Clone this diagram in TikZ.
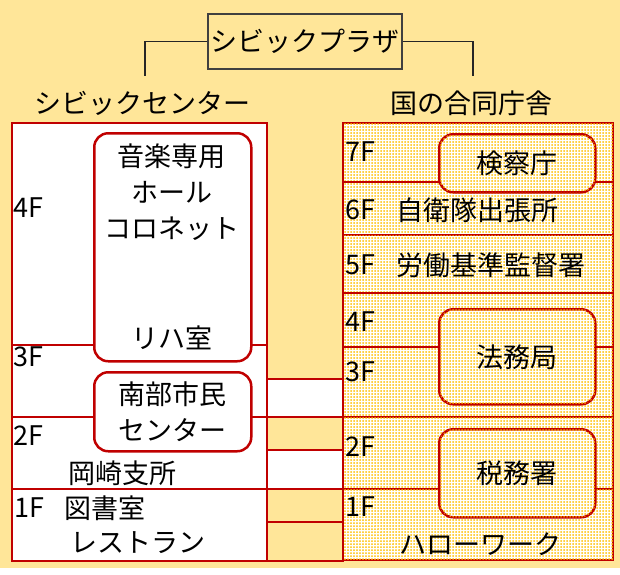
\documentclass[tikz,border=0pt]{standalone}
\usepackage{fontspec}
\setmainfont{Noto Sans CJK JP}
\usepackage{xcolor}
\usetikzlibrary{positioning, patterns.meta}

\definecolor{bgyellow}{HTML}{FFE699}
\definecolor{wallred}{HTML}{C00000}
\definecolor{dotgold}{HTML}{FFC000}

\begin{document}
\begin{tikzpicture}[
    x=1pt, y=-1pt,
    txt/.style={inner sep=0pt, font=\fontsize{27}{36}\selectfont, align=center},
    dotted fill/.style={fill=white, postaction={pattern={Dots[radius=1pt, distance=3pt]}, pattern color=dotgold}},
    civicfloor/.style={rectangle, draw=wallred, line width=2pt, fill=white, outer sep=0pt, inner sep=0pt, minimum width=255pt},
    govfloor/.style={rectangle, draw=wallred, line width=2pt, dotted fill, outer sep=0pt, inner sep=0pt, minimum width=270pt},
    bridge/.style={rectangle, draw=wallred, line width=2pt, outer sep=0pt, minimum width=76pt, anchor=south west},
    room/.style={rectangle, rounded corners=14pt, draw=wallred, line width=2.5pt, fill=white, inner sep=0pt, anchor=north west, txt},
    govroom/.style={room, dotted fill},
    titlebox/.style={rectangle, draw=black!75, line width=1.5pt, fill=bgyellow, minimum width=194pt, minimum height=55pt, txt},
    link/.style={draw=black!85, line width=1.5pt}
]

% Background
\useasboundingbox (0,0) rectangle (620,574);
\fill[bgyellow] (0,0) rectangle (620,568);

% Plaza title and headers
\node[titlebox] (plaza) at (305,41.5) {シビックプラザ};
\coordinate (civictop) at (145,76);
\coordinate (govtop) at (473,76);
\draw[link] (plaza.west) -| (civictop);
\draw[link] (plaza.east) -| (govtop);
\node[txt] (civichead) at (142,103) {シビックセンター};
\node[txt] (govhead) at (471,103) {国の合同庁舎};

% Civic center floors
\node[civicfloor, minimum height=222pt, anchor=north west] (c4) at (12,123) {};
\node[civicfloor, minimum height=72pt, below=0pt of c4] (c3) {};
\node[civicfloor, minimum height=72pt, below=0pt of c3] (c2) {};
\node[civicfloor, minimum height=72pt, below=0pt of c2] (c1) {};

% Government building floors
\node[govfloor, minimum height=59pt, anchor=north west] (g7) at (343,123) {};
\node[govfloor, minimum height=53pt, below=0pt of g7] (g6) {};
\node[govfloor, minimum height=58pt, below=0pt of g6] (g5) {};
\node[govfloor, minimum height=54pt, below=0pt of g5] (g4) {};
\node[govfloor, minimum height=70pt, below=0pt of g4] (g3) {};
\node[govfloor, minimum height=72pt, below=0pt of g3] (g2) {};
\node[govfloor, minimum height=71pt, below=0pt of g2] (g1) {};

% Bridges between buildings
\node[bridge, fill=white, minimum height=38pt] (br3) at (c3.south east) {};
\node[bridge, fill=white, minimum height=39pt] (br2) at (c2.south east) {};
\node[bridge, minimum height=39pt] (br1) at (c1.south east) {};

% Rooms
\node[room, minimum width=157pt, minimum height=228pt] (hall) at (93,132) {};
\node[room, minimum width=157pt, minimum height=79pt] (minami) at (93,371) {南部市民\\センター};
\node[govroom, minimum width=156pt, minimum height=58pt] (kensatsu) at (438,133) {検察庁};
\node[govroom, minimum width=156pt, minimum height=95pt] (houmu) at (438,308) {法務局};
\node[govroom, minimum width=156pt, minimum height=88pt] (zeimu) at (438,428) {税務署};

% Civic center labels
\node[txt] (hallname) at (171.5,192) {音楽専用\\ホール\\コロネット};
\node[txt] (rehearsal) at (171.5,338) {リハ室};
\node[txt, anchor=west] (cf4) at (13,208) {4F};
\node[txt, anchor=west] (cf3) at (13,357) {3F};
\node[txt, anchor=west] (cf2) at (13,436) {2F};
\node[txt, anchor=west] (okazaki) at (68,473) {岡崎支所};
\node[txt, anchor=west] (cf1) at (14,508) {1F};
\node[txt, right=20pt of cf1] (library) {図書室};
\node[txt, anchor=west] (restaurant) at (70,543) {レストラン};

% Government building labels
\node[txt, anchor=west] (gf7) at (345,152) {7F};
\node[txt, anchor=west] (gf6) at (345,210) {6F};
\node[txt, right=21pt of gf6] (sdf) {自衛隊出張所};
\node[txt, anchor=west] (gf5) at (345,265) {5F};
\node[txt, right=21pt of gf5] (labour) {労働基準監督署};
\node[txt, anchor=west] (gf4) at (345,322) {4F};
\node[txt, anchor=west] (gf3) at (345,372) {3F};
\node[txt, anchor=west] (gf2) at (345,447) {2F};
\node[txt, anchor=west] (gf1) at (345,507) {1F};
\node[txt] (hellowork) at (480,544) {ハローワーク};

\end{tikzpicture}
\end{document}
